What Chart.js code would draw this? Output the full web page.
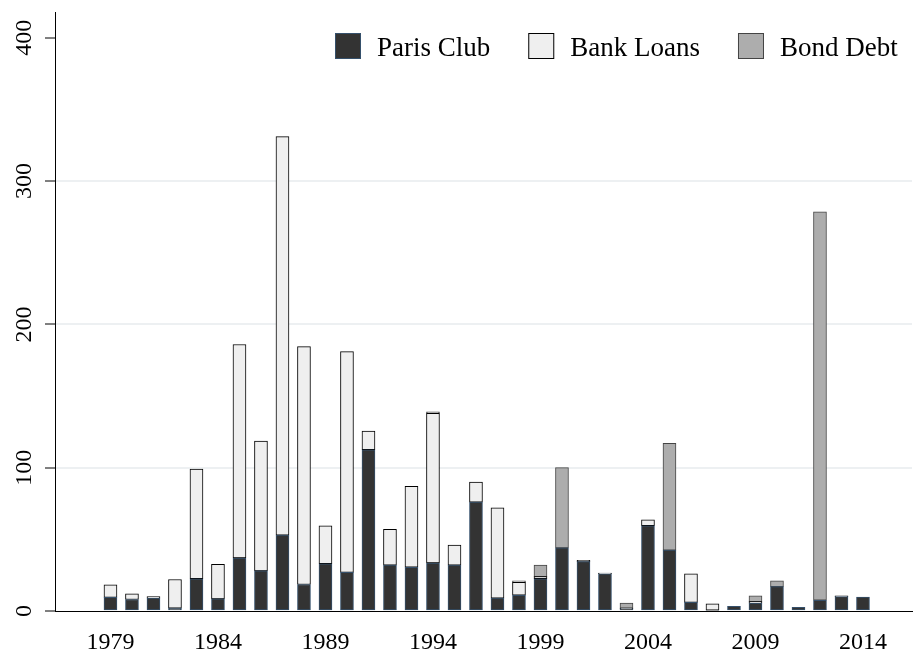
<!DOCTYPE html>
<html>
<head>
<meta charset="utf-8">
<script src="https://cdn.jsdelivr.net/npm/chart.js@4"></script>
<style>
  body { margin: 0; background: #fff; }
</style>
</head>
<body>
<canvas id="myChart" width="916" height="657"></canvas>
<script>
// Debt restructurings per year
const years = [1979, 1980, 1981, 1982, 1983, 1984, 1985, 1986, 1987, 1988,
               1989, 1990, 1991, 1992, 1993, 1994, 1995, 1996, 1997, 1998,
               1999, 2000, 2001, 2002, 2003, 2004, 2005, 2006, 2007, 2008,
               2009, 2010, 2011, 2012, 2013, 2014];

const parisClub = [9.5, 8, 9, 2, 22.5, 8.5, 37, 28, 53, 18.5,
                   33, 27, 112.5, 32, 30.5, 33.5, 32, 76, 9, 11,
                   22.5, 44, 34.5, 26, 1.5, 59.5, 42.5, 6, 0.5, 3.3,
                   5.5, 17, 2.5, 7.5, 10, 9.8];

const bankLoans = [8.8, 4, 1, 20, 76.5, 24, 149, 90.5, 278, 166,
                   26.5, 154, 13, 25, 56.5, 104.5, 14, 14, 63, 9,
                   1.5, 0, 0.8, 0.5, 0.5, 4.2, 0, 20, 4.5, 0,
                   1, 0, 0, 0, 0.5, 0];

const bondDebt = [0, 0, 0, 0, 0, 0, 0, 0, 0, 0,
                  0, 0, 0, 0, 0, 1, 0, 0, 0, 1,
                  8, 56, 0, 0, 3.5, 0, 74.5, 0, 0, 0,
                  4, 4, 0, 271, 0, 0];

const xTickLabels = [1979, 1984, 1989, 1994, 1999, 2004, 2009, 2014];
const yTickValues = [0, 100, 200, 300, 400];

const toPoints = vals => years.map((yr, i) => ({ x: yr, y: vals[i] === 0 ? null : vals[i] }));

const serif = '"Liberation Serif", "Times New Roman", serif';

// rotated y tick labels
const yLabels = {
    id: 'yLabels',
    afterDraw(chart) {
        const ctx = chart.ctx;
        const y = chart.scales.y;
        ctx.save();
        ctx.font = '24px ' + serif;
        ctx.fillStyle = '#000';
        ctx.textAlign = 'center';
        ctx.textBaseline = 'alphabetic';
        y.ticks.forEach(t => {
            const py = y.getPixelForValue(t.value);
            ctx.save();
            ctx.translate(31, py);
            ctx.rotate(-Math.PI / 2);
            ctx.fillText(String(t.value), 0, 0);
            ctx.restore();
        });
        ctx.restore();
    }
};

// legend inside the plot, top right
const insideLegend = {
    id: 'insideLegend',
    afterDraw(chart) {
        const ctx = chart.ctx;
        ctx.save();
        ctx.font = '27px ' + serif;
        ctx.textBaseline = 'alphabetic';
        ctx.textAlign = 'left';
        let x = 335;
        const top = 33, box = 26;
        chart.data.datasets.forEach(ds => {
            ctx.fillStyle = ds.backgroundColor;
            ctx.fillRect(x, top, box, box);
            ctx.strokeStyle = ds.borderColor;
            ctx.lineWidth = 1;
            ctx.strokeRect(x + 0.5, top + 0.5, box - 1, box - 1);
            x += box + 16;
            ctx.fillStyle = '#000';
            ctx.fillText(ds.label, x, top + 23);
            x += ctx.measureText(ds.label).width + 38;
        });
        ctx.restore();
    }
};

const ctx = document.getElementById('myChart').getContext('2d');

new Chart(ctx, {
    type: 'bar',
    data: {
        datasets: [{
            label: 'Paris Club',
            data: toPoints(parisClub),
            backgroundColor: '#333333',
            borderColor: '#35506b',
            borderWidth: 1,
            borderSkipped: false,
            barThickness: 13
        }, {
            label: 'Bank Loans',
            data: toPoints(bankLoans),
            backgroundColor: '#efefef',
            borderColor: '#000000',
            borderWidth: 1,
            borderSkipped: false,
            barThickness: 13
        }, {
            label: 'Bond Debt',
            data: toPoints(bondDebt),
            backgroundColor: '#adadad',
            borderColor: '#444444',
            borderWidth: 1,
            borderSkipped: false,
            barThickness: 13
        }]
    },
    options: {
        responsive: false,
        animation: false,
        devicePixelRatio: 1,
        layout: { padding: { top: 12, right: 4, left: 0, bottom: 0 } },
        plugins: {
            legend: { display: false },
            tooltip: { enabled: false }
        },
        scales: {
            x: {
                type: 'linear',
                stacked: true,
                offset: false,
                min: 1976.42,
                max: 2016.28,
                afterBuildTicks: scale => {
                    scale.ticks = xTickLabels.map(v => ({ value: v }));
                },
                afterFit: scale => { scale.height = 46; },
                grid: { display: false, drawTicks: false },
                border: { display: true, color: '#000', width: 1 },
                ticks: {
                    color: '#000',
                    font: { family: serif, size: 24 },
                    padding: 17,
                    maxRotation: 0,
                    autoSkip: false,
                    callback: v => String(v)
                }
            },
            y: {
                stacked: true,
                min: 0,
                max: 418,
                afterBuildTicks: scale => {
                    scale.ticks = yTickValues.map(v => ({ value: v }));
                },
                afterFit: scale => { scale.width = 55; },
                grid: {
                    color: c => (c.tick && c.tick.value > 0 && c.tick.value < 400) ? '#edf0f2' : 'rgba(0,0,0,0)',
                    lineWidth: 2,
                    tickColor: '#000',
                    tickLength: 10,
                    tickWidth: 1
                },
                border: { display: true, color: '#000', width: 1 },
                ticks: { display: false }
            }
        }
    },
    plugins: [yLabels, insideLegend]
});
</script>
</body>
</html>
